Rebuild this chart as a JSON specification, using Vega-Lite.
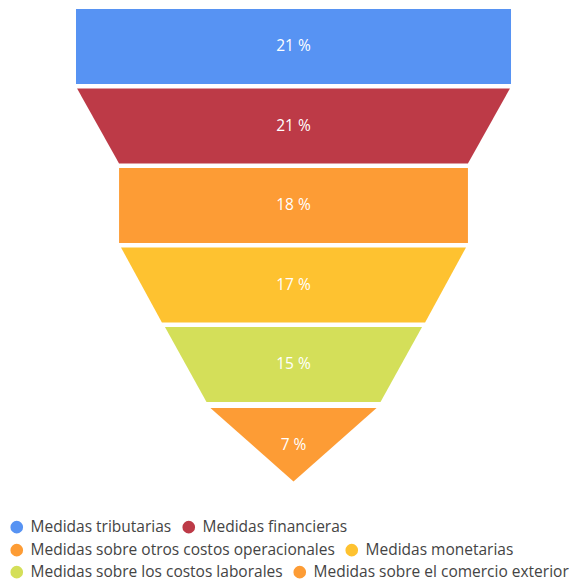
{
  "$schema": "https://vega.github.io/schema/vega-lite/v6.json",
  "width": 578,
  "height": 582,
  "autosize": "none",
  "padding": 0,
  "background": "white",
  "config": {"view": {"stroke": null}, "font": "Open Sans"},
  "data": {"values": [
    {"category": "Medidas tributarias", "label": "21 %", "y": 0, "left": -100, "right": 100},
    {"category": "Medidas tributarias", "label": "21 %", "y": 0.943, "left": -100, "right": 100},
    {"category": "Medidas financieras", "label": "21 %", "y": 1, "left": -99.5, "right": 99.5},
    {"category": "Medidas financieras", "label": "21 %", "y": 1.943, "left": -80.2, "right": 80.2},
    {"category": "Medidas sobre otros costos operacionales", "label": "18 %", "y": 2, "left": -80.2, "right": 80.2},
    {"category": "Medidas sobre otros costos operacionales", "label": "18 %", "y": 2.943, "left": -80.2, "right": 80.2},
    {"category": "Medidas monetarias", "label": "17 %", "y": 3, "left": -79.3, "right": 79.3},
    {"category": "Medidas monetarias", "label": "17 %", "y": 3.943, "left": -60.5, "right": 60.5},
    {"category": "Medidas sobre los costos laborales", "label": "15 %", "y": 4, "left": -59.1, "right": 59.1},
    {"category": "Medidas sobre los costos laborales", "label": "15 %", "y": 4.943, "left": -40, "right": 40},
    {"category": "Medidas sobre el comercio exterior", "label": "7 %", "y": 5.02, "left": -38.2, "right": 38.2},
    {"category": "Medidas sobre el comercio exterior", "label": "7 %", "y": 5.943, "left": 0, "right": 0}
  ]},
  "resolve": {"scale": {"color": "independent"}},
  "layer": [
    {
      "transform": [{"filter": {"field": "category", "oneOf": ["Medidas tributarias", "Medidas financieras"]}}],
      "mark": {"type": "area", "orient": "horizontal"},
      "encoding": {
        "y": {"field": "y", "type": "quantitative", "axis": null, "scale": {"domain": [-0.113, 7.208], "reverse": true, "nice": false, "zero": false}},
        "x": {"field": "left", "type": "quantitative", "axis": null, "stack": null, "scale": {"domain": [-134.94, 130.8], "nice": false, "zero": false}},
        "x2": {"field": "right"},
        "color": {"field": "category", "type": "nominal",
          "scale": {"domain": ["Medidas tributarias", "Medidas financieras"], "range": ["#5793F3", "#BD3A47"]},
          "legend": {"title": null, "orient": "none", "direction": "horizontal", "legendX": 9, "legendY": 519, "symbolType": "circle", "symbolSize": 160, "symbolStrokeWidth": 0, "labelFontSize": 15.5, "labelColor": "#444", "labelOffset": 6, "columnPadding": 9, "labelLimit": 400}
        }
      }
    },
    {
      "transform": [{"filter": {"field": "category", "oneOf": ["Medidas sobre otros costos operacionales", "Medidas monetarias"]}}],
      "mark": {"type": "area", "orient": "horizontal"},
      "encoding": {
        "y": {"field": "y", "type": "quantitative", "axis": null, "scale": {"domain": [-0.113, 7.208], "reverse": true, "nice": false, "zero": false}},
        "x": {"field": "left", "type": "quantitative", "axis": null, "stack": null, "scale": {"domain": [-134.94, 130.8], "nice": false, "zero": false}},
        "x2": {"field": "right"},
        "color": {"field": "category", "type": "nominal",
          "scale": {"domain": ["Medidas sobre otros costos operacionales", "Medidas monetarias"], "range": ["#FD9C35", "#FEC230"]},
          "legend": {"title": null, "orient": "none", "direction": "horizontal", "legendX": 9, "legendY": 542, "symbolType": "circle", "symbolSize": 160, "symbolStrokeWidth": 0, "labelFontSize": 15.5, "labelColor": "#444", "labelOffset": 6, "columnPadding": 9, "labelLimit": 400}
        }
      }
    },
    {
      "transform": [{"filter": {"field": "category", "oneOf": ["Medidas sobre los costos laborales", "Medidas sobre el comercio exterior"]}}],
      "mark": {"type": "area", "orient": "horizontal"},
      "encoding": {
        "y": {"field": "y", "type": "quantitative", "axis": null, "scale": {"domain": [-0.113, 7.208], "reverse": true, "nice": false, "zero": false}},
        "x": {"field": "left", "type": "quantitative", "axis": null, "stack": null, "scale": {"domain": [-134.94, 130.8], "nice": false, "zero": false}},
        "x2": {"field": "right"},
        "color": {"field": "category", "type": "nominal",
          "scale": {"domain": ["Medidas sobre los costos laborales", "Medidas sobre el comercio exterior"], "range": ["#D4DF59", "#FD9C35"]},
          "legend": {"title": null, "orient": "none", "direction": "horizontal", "legendX": 9, "legendY": 564, "symbolType": "circle", "symbolSize": 160, "symbolStrokeWidth": 0, "labelFontSize": 15.5, "labelColor": "#444", "labelOffset": 6, "columnPadding": 9, "labelLimit": 400}
        }
      }
    },
    {
      "mark": {"type": "text", "color": "white", "fontSize": 15.5, "align": "center", "baseline": "middle"},
      "encoding": {
        "y": {"aggregate": "mean", "field": "y", "type": "quantitative", "axis": null, "scale": {"domain": [-0.113, 7.208], "reverse": true, "nice": false, "zero": false}},
        "x": {"datum": 0, "type": "quantitative", "axis": null, "scale": {"domain": [-134.94, 130.8], "nice": false, "zero": false}},
        "text": {"field": "label"},
        "detail": {"field": "category"}
      }
    }
  ]
}
